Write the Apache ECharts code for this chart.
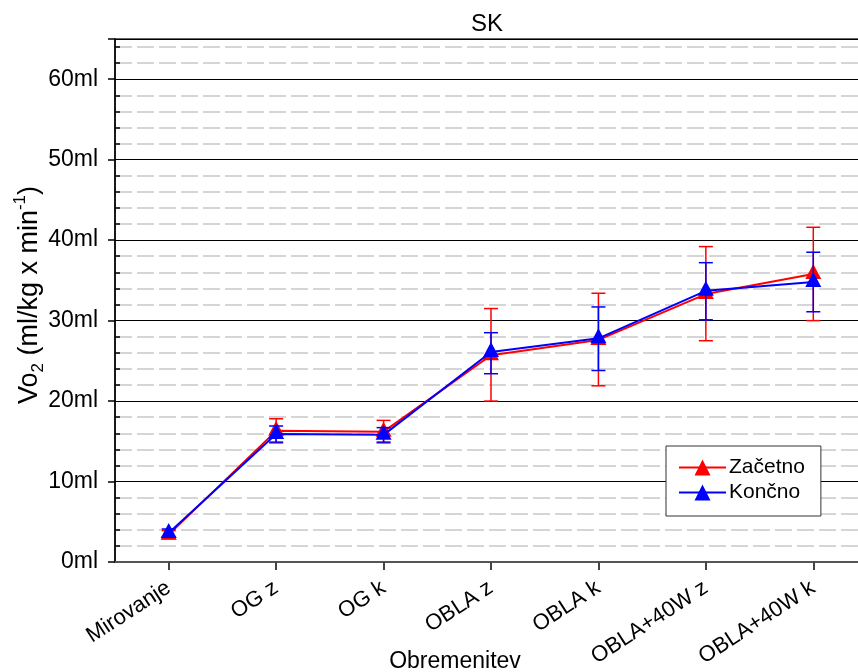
<!DOCTYPE html>
<html>
<head>
<meta charset="utf-8">
<script src="https://cdn.jsdelivr.net/npm/echarts@6/dist/echarts.min.js"></script>
<style>
html,body{margin:0;padding:0;background:#fff;}
#chart{width:858px;height:672px;}
</style>
</head>
<body>
<div id="chart"></div>
<script>
// ---- data ----
const categories = ['Mirovanje', 'OG z', 'OG k', 'OBLA z', 'OBLA k', 'OBLA+40W z', 'OBLA+40W k'];
const seriesNames = ['Začetno', 'Končno'];

const zacetnoMean = [3.4, 16.3, 16.2, 25.7, 27.6, 33.3, 35.8];
const zacetnoLow  = [2.9, 14.8, 14.8, 20.0, 21.9, 27.5, 30.0];
const zacetnoHigh = [3.9, 17.8, 17.6, 31.5, 33.4, 39.2, 41.6];

const koncnoMean = [3.6, 15.9, 15.8, 26.1, 27.8, 33.7, 34.8];
const koncnoLow  = [3.1, 14.9, 14.9, 23.4, 23.8, 30.1, 31.1];
const koncnoHigh = [4.1, 16.9, 16.7, 28.5, 31.7, 37.2, 38.5];

const yTickValues = [0, 10, 20, 30, 40, 50, 60];
const yUnit = 'ml';

// ---- chart ----
const FONT = '"Liberation Sans", Arial, Helvetica, sans-serif';
const chart = echarts.init(document.getElementById('chart'), null, {renderer: 'canvas'});

function errorSeries(low, high, color, z) {
  return {
    type: 'custom',
    xAxisIndex: 0,
    yAxisIndex: 0,
    z: z,
    silent: true,
    data: low.map((l, i) => [i, l, high[i]]),
    encode: {x: 0, y: [1, 2]},
    renderItem: function (params, api) {
      const x = api.value(0);
      const lo = api.coord([x, api.value(1)]);
      const hi = api.coord([x, api.value(2)]);
      const hw = 7;
      const style = {stroke: color, lineWidth: 1.5, fill: null};
      return {
        type: 'group',
        children: [
          {type: 'line', shape: {x1: lo[0], y1: lo[1], x2: hi[0], y2: hi[1]}, style: style},
          {type: 'line', shape: {x1: lo[0] - hw, y1: lo[1], x2: lo[0] + hw, y2: lo[1]}, style: style},
          {type: 'line', shape: {x1: hi[0] - hw, y1: hi[1], x2: hi[0] + hw, y2: hi[1]}, style: style}
        ]
      };
    }
  };
}

function lineSeries(name, data, color, z) {
  return {
    type: 'line',
    name: name,
    data: data,
    z: z,
    symbol: 'triangle',
    symbolSize: [16, 15],
    symbolOffset: [0, -2.5],
    showAllSymbol: true,
    lineStyle: {color: color, width: 2},
    itemStyle: {color: color, borderWidth: 0},
    emphasis: {disabled: true}
  };
}

const option = {
  animation: false,
  backgroundColor: '#fff',
  textStyle: {fontFamily: FONT},
  title: {
    text: 'SK',
    left: 466,
    top: 7,
    textStyle: {fontFamily: FONT, fontSize: 24, fontWeight: 'normal', color: '#000'}
  },
  legend: {
    data: seriesNames,
    orient: 'vertical',
    left: 666,
    top: 446,
    padding: [11, 16, 13, 12],
    itemGap: 4,
    itemWidth: 47,
    itemHeight: 20,
    backgroundColor: '#fff',
    borderColor: '#333',
    borderWidth: 1,
    borderRadius: 0,
    textStyle: {fontFamily: FONT, fontSize: 21, color: '#000', padding: [0, 0, 0, -2]}
  },
  grid: {
    left: 115,
    right: -9,
    top: 39,
    bottom: 110,
    show: true,
    borderColor: '#333',
    borderWidth: 1.5,
    backgroundColor: 'transparent',
    containLabel: false,
    outerBoundsMode: 'none'
  },
  xAxis: {
    type: 'category',
    data: categories,
    boundaryGap: true,
    name: 'Obremenitev',
    nameLocation: 'middle',
    nameGap: 88,
    nameMoveOverlap: false,
    nameTextStyle: {fontFamily: FONT, fontSize: 23, color: '#000', padding: [0, 72, 0, 0], verticalAlign: 'top'},
    axisLine: {show: true, lineStyle: {color: '#555', width: 2}},
    axisTick: {show: true, alignWithLabel: true, inside: false, length: 8, lineStyle: {color: '#444', width: 2}},
    axisLabel: {rotate: 33, margin: 24, fontFamily: FONT, fontSize: 22, color: '#000', interval: 0},
    splitLine: {show: false}
  },
  yAxis: [
    {
      type: 'value',
      min: 0,
      max: 65,
      interval: 10,
      name: '{a|Vo}{sub|2}{a| (ml/kg x min}{sup|-1}{a|)}',
      nameLocation: 'middle',
      nameGap: 68,
      nameRotate: 90,
      nameMoveOverlap: false,
      nameTextStyle: {
        fontFamily: FONT,
        color: '#000',
        padding: [0, 0, 0, 11],
        rich: {
          a: {fontFamily: FONT, fontSize: 27, lineHeight: 35, color: '#000'},
          sub: {fontFamily: FONT, fontSize: 17, lineHeight: 17, verticalAlign: 'bottom', color: '#000'},
          sup: {fontFamily: FONT, fontSize: 17, lineHeight: 17, verticalAlign: 'top', color: '#000'}
        }
      },
      axisLine: {show: true, lineStyle: {color: '#000', width: 1.5}},
      axisTick: {show: true, inside: false, length: 7, lineStyle: {color: '#000', width: 1.5}},
      axisLabel: {
        margin: 17,
        fontFamily: FONT,
        fontSize: 23,
        color: '#000',
        formatter: function (v) { return yTickValues.indexOf(v) >= 0 ? v + yUnit : ''; }
      },
      splitLine: {show: true, lineStyle: {color: '#000', width: 1, type: 'solid'}},
      minorTick: {show: false, splitNumber: 5},
      minorSplitLine: {show: true, lineStyle: {color: '#c8c8c8', width: 1.5, type: [17, 5]}}
    },
    {
      type: 'value',
      min: 0,
      max: 65,
      interval: 10,
      position: 'left',
      axisLine: {show: false},
      axisTick: {show: false, inside: true},
      axisLabel: {show: false},
      splitLine: {show: false},
      minorTick: {show: true, splitNumber: 5, length: 5, lineStyle: {color: '#000', width: 1.5}}
    }
  ],
  series: [
    errorSeries(zacetnoLow, zacetnoHigh, '#ff0000', 2),
    lineSeries(seriesNames[0], zacetnoMean, '#ff0000', 3),
    errorSeries(koncnoLow, koncnoHigh, '#0000ff', 4),
    lineSeries(seriesNames[1], koncnoMean, '#0000ff', 5)
  ]
};
chart.setOption(option);
</script>
</body>
</html>
